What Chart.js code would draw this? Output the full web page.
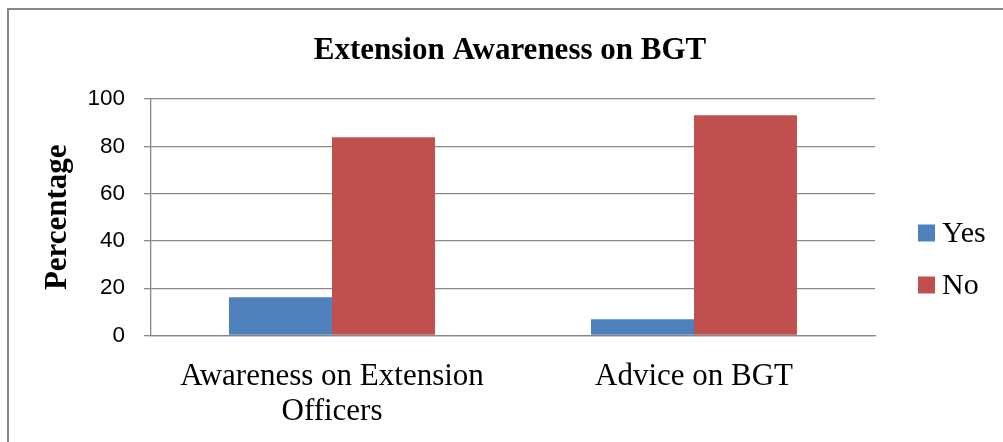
<!DOCTYPE html>
<html>
<head>
<meta charset="utf-8">
<script src="https://cdn.jsdelivr.net/npm/chart.js@4.4.0/dist/chart.umd.min.js"></script>
<style>
  html, body { margin: 0; padding: 0; background: #fff; overflow: hidden; }
  #wrap { position: relative; width: 1003px; height: 442px; }
  #frame { position: absolute; left: 7px; top: 8px; width: 1020px; height: 460px; border: 2px solid #868686; box-sizing: border-box; }
  canvas { position: absolute; left: 0; top: 0; }
</style>
</head>
<body>
<div id="wrap">
  <div id="frame"></div>
  <canvas id="c" width="1003" height="442"></canvas>
</div>
<script>
const chartTitle = 'Extension Awareness on BGT';
const yAxisTitle = 'Percentage';
const categories = [['Awareness on Extension', 'Officers'], 'Advice on BGT'];
const seriesNames = ['Yes', 'No'];
const yesValues = [16.2, 6.9];
const noValues = [83.8, 93.1];
const seriesColors = ['#4F81BD', '#C0504D'];
const yMin = 0, yMax = 100, yStep = 20;

const legendPlugin = {
  id: 'customLegend',
  afterDraw(chart) {
    const ctx = chart.ctx;
    ctx.save();
    ctx.font = '30px "Liberation Serif", "Times New Roman", serif';
    ctx.textBaseline = 'middle';
    ctx.textAlign = 'left';
    chart.data.datasets.forEach((ds, i) => {
      const cy = 233 + i * 52;
      ctx.fillStyle = ds.backgroundColor;
      ctx.fillRect(918, cy - 8.5, 17, 17);
      ctx.fillStyle = '#000';
      ctx.fillText(ds.label, 942, cy + 1);
    });
    ctx.restore();
  }
};

new Chart(document.getElementById('c'), {
  type: 'bar',
  data: {
    labels: categories,
    datasets: [
      { label: seriesNames[0], data: yesValues, backgroundColor: seriesColors[0], borderWidth: 0, yAxisID: 'y' },
      { label: seriesNames[1], data: noValues, backgroundColor: seriesColors[1], borderWidth: 0, yAxisID: 'y' }
    ]
  },
  options: {
    responsive: false,
    animation: false,
    devicePixelRatio: 1,
    categoryPercentage: 0.569,
    barPercentage: 1.0,
    layout: { padding: { left: 17, right: 0, top: 0, bottom: 0 } },
    plugins: {
      legend: { display: false },
      tooltip: { enabled: false },
      title: {
        display: true,
        text: chartTitle,
        color: '#000',
        font: { family: '"Liberation Serif", "Times New Roman", serif', size: 31, weight: 'bold', lineHeight: 1.2 },
        padding: { top: 32, bottom: 29.8 }
      }
    },
    scales: {
      x: {
        grid: { display: false, drawTicks: false },
        border: { display: true, color: '#868686', width: 1.3 },
        ticks: {
          color: '#000',
          padding: 23.5,
          maxRotation: 0,
          autoSkip: false,
          font: { family: '"Liberation Serif", "Times New Roman", serif', size: 31, lineHeight: 1.13 }
        },
        afterFit(s) { s.height = 106.5; }
      },
      y: {
        min: yMin,
        max: yMax,
        ticks: {
          stepSize: yStep,
          color: '#000',
          padding: 19,
          font: { family: '"Liberation Sans", Arial, sans-serif', size: 22.5 }
        },
        grid: { color: '#8a8a8a', lineWidth: 1.3, tickLength: 7, drawTicks: true },
        border: { display: true, color: '#868686', width: 1.3 },
        title: {
          display: true,
          text: yAxisTitle,
          color: '#000',
          font: { family: '"Liberation Serif", "Times New Roman", serif', size: 31, weight: 'bold', lineHeight: 1.2 },
          padding: { top: 22.4, bottom: 0 }
        },
        afterFit(s) { s.width = 134; }
      },
      legendSpace: {
        type: 'linear',
        position: 'right',
        display: true,
        min: yMin,
        max: yMax,
        grid: { display: false, drawTicks: false },
        border: { display: false },
        ticks: { display: false },
        afterFit(s) { s.width = 128; }
      }
    }
  },
  plugins: [legendPlugin]
});
</script>
</body>
</html>
